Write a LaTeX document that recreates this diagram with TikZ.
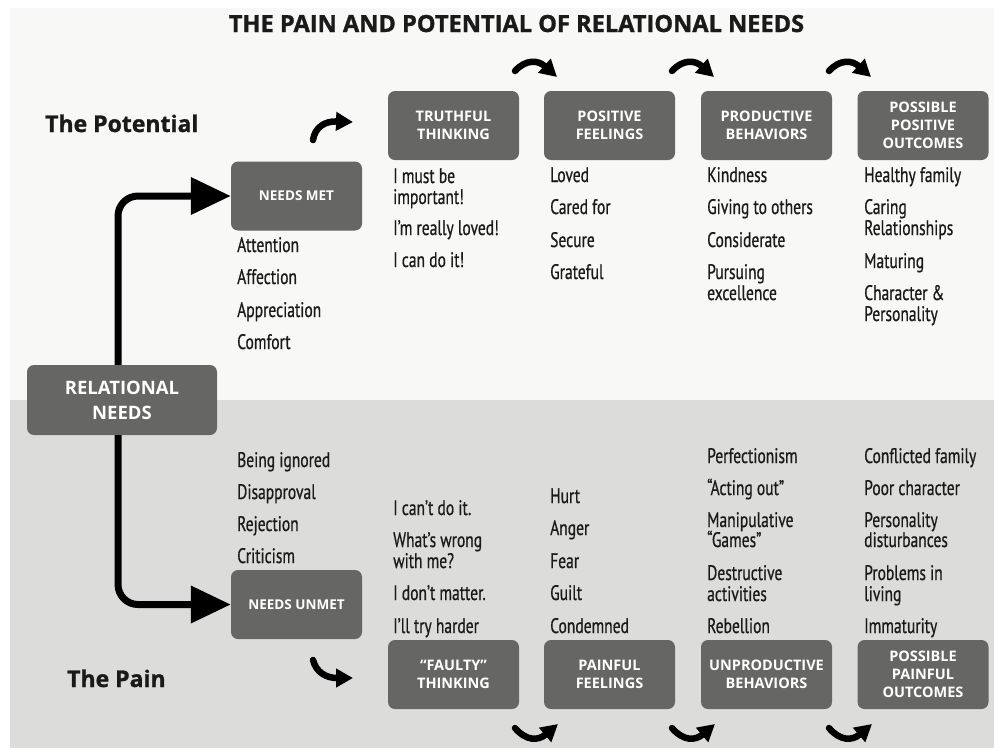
\documentclass[tikz,border=0pt]{standalone}
\usepackage{fontspec}
\setmainfont{PT Sans}
\newfontfamily\listfont[FakeStretch=0.74,FakeBold=0.6]{PT Sans}
\newfontfamily\headfont{Open Sans}
\newfontfamily\heavyfont[BoldFeatures={FakeBold=1.2}]{Open Sans}
\usetikzlibrary{arrows.meta}
\definecolor{boxgray}{HTML}{666664}
\definecolor{toptone}{HTML}{F8F8F6}
\definecolor{bottone}{HTML}{DCDCDA}
\definecolor{ink}{HTML}{1A1A1A}
\tikzset{
  stagebox/.style={fill=boxgray, rounded corners=7pt, minimum width=131pt, minimum height=69pt,
    text=white, font=\headfont\bfseries\fontsize{14.5}{18}\selectfont, align=center, inner sep=0pt},
  item/.style={anchor=base west, font=\listfont\fontsize{21}{21}\selectfont, text=ink, inner sep=0pt},
  sidelabel/.style={anchor=base west, font=\heavyfont\bfseries\fontsize{23}{26}\selectfont, text=ink, inner sep=0pt},
  bigarrow/.style={draw=black, line width=7pt, rounded corners=20pt, -{Triangle[length=40pt,width=36pt]}},
  curvy/.style={draw=black, line width=6.5pt, line cap=round, -{Triangle[length=17pt,width=18pt]}}
}
\begin{document}
\begin{tikzpicture}[x=1pt,y=-1pt]
\useasboundingbox (0,0) rectangle (994,748);
\fill[white] (0,0) rectangle (994,748);
\fill[toptone] (10,8) rectangle (994,400);
\fill[bottone] (10,400) rectangle (994,748);

% title and side labels
\node[anchor=base, font=\heavyfont\bfseries\fontsize{23.6}{26}\selectfont, text=ink, inner sep=0pt] (title) at (516.5,32) {THE PAIN AND POTENTIAL OF RELATIONAL NEEDS};
\node[sidelabel] (potential) at (45,132) {The Potential};
\node[sidelabel] (pain) at (67,687) {The Pain};

% boxes
\node[stagebox, minimum width=190pt, minimum height=70pt, font=\headfont\bfseries\fontsize{18.5}{25}\selectfont] (rn) at (122,400) {RELATIONAL\\NEEDS};
\node[stagebox, font=\headfont\bfseries\fontsize{13.5}{18}\selectfont] (met) at (296.5,196) {NEEDS MET};
\node[stagebox, font=\headfont\bfseries\fontsize{13.5}{18}\selectfont] (unmet) at (296.5,604.5) {NEEDS UNMET};
\node[stagebox] (tt) at (453.5,125.5) {TRUTHFUL\\THINKING};
\node[stagebox] (pf) at (609.5,125.5) {POSITIVE\\FEELINGS};
\node[stagebox] (pb) at (766.5,125.5) {PRODUCTIVE\\BEHAVIORS};
\node[stagebox] (po) at (923,125.5) {POSSIBLE\\POSITIVE\\OUTCOMES};
\node[stagebox] (ft) at (453.5,674.5) {“FAULTY”\\THINKING};
\node[stagebox] (pnf) at (609.5,674.5) {PAINFUL\\FEELINGS};
\node[stagebox] (ub) at (766.5,674.5) {UNPRODUCTIVE\\BEHAVIORS};
\node[stagebox] (ppo) at (923,674.5) {POSSIBLE\\PAINFUL\\OUTCOMES};

% main branching arrows
\draw[bigarrow] ([xshift=-4pt]rn.north) |- (met.west);
\draw[bigarrow] ([xshift=-4pt]rn.south) |- (unmet.west);

% small curved arrows
\coordinate (u1a) at (313,140); \coordinate (u1b) at (353,122);
\coordinate (u2a) at (515,71);  \coordinate (u2b) at (557,77);
\coordinate (u3a) at (672,71);  \coordinate (u3b) at (714,77);
\coordinate (u4a) at (829,71);  \coordinate (u4b) at (871,77);
\draw[curvy] (u1a) .. controls (315,127) and (325,121) .. (u1b);
\draw[curvy] (u2a) .. controls (526,59) and (538,60) .. (u2b);
\draw[curvy] (u3a) .. controls (683,59) and (695,60) .. (u3b);
\draw[curvy] (u4a) .. controls (840,59) and (852,60) .. (u4b);
\coordinate (d1a) at (313,660); \coordinate (d1b) at (353,678);
\coordinate (d2a) at (515,728); \coordinate (d2b) at (558,724);
\coordinate (d3a) at (672,728); \coordinate (d3b) at (715,724);
\coordinate (d4a) at (829,728); \coordinate (d4b) at (872,724);
\draw[curvy] (d1a) .. controls (316,672) and (326,678) .. (d1b);
\draw[curvy] (d2a) .. controls (526,741) and (538,741) .. (d2b);
\draw[curvy] (d3a) .. controls (683,741) and (695,741) .. (d3b);
\draw[curvy] (d4a) .. controls (840,741) and (852,741) .. (d4b);

% potential lists
\node[item] (m1) at (237,252) {Attention};
\node[item] (m2) at (237,284) {Affection};
\node[item] (m3) at (237,317) {Appreciation};
\node[item] (m4) at (237,349) {Comfort};

\node[item] (t1) at (393,183) {I must be};
\node[item] (t1b) at (393,204) {important!};
\node[item] (t2) at (393,235) {I’m really loved!};
\node[item] (t3) at (393,267) {I can do it!};

\node[item] (f1) at (550,182) {Loved};
\node[item] (f2) at (550,214) {Cared for};
\node[item] (f3) at (550,247) {Secure};
\node[item] (f4) at (550,279) {Grateful};

\node[item] (b1) at (707,182) {Kindness};
\node[item] (b2) at (707,214) {Giving to others};
\node[item] (b3) at (707,247) {Considerate};
\node[item] (b4) at (707,279) {Pursuing};
\node[item] (b4b) at (707,300) {excellence};

\node[item] (o1) at (864,182) {Healthy family};
\node[item] (o2) at (864,214) {Caring};
\node[item] (o2b) at (864,235) {Relationships};
\node[item] (o3) at (864,268) {Maturing};
\node[item] (o4) at (864,300) {Character \&};
\node[item] (o4b) at (864,321) {Personality};

% pain lists
\node[item] (n1) at (237,467) {Being ignored};
\node[item] (n2) at (237,499) {Disapproval};
\node[item] (n3) at (237,531) {Rejection};
\node[item] (n4) at (237,563) {Criticism};

\node[item] (q1) at (393,515) {I can’t do it.};
\node[item] (q2) at (393,547) {What’s wrong};
\node[item] (q2b) at (393,568) {with me?};
\node[item] (q3) at (393,600) {I don’t matter.};
\node[item] (q4) at (393,633) {I’ll try harder};

\node[item] (h1) at (550,503) {Hurt};
\node[item] (h2) at (550,535) {Anger};
\node[item] (h3) at (550,568) {Fear};
\node[item] (h4) at (550,600) {Guilt};
\node[item] (h5) at (550,633) {Condemned};

\node[item] (r1) at (707,463) {Perfectionism};
\node[item] (r2) at (707,495) {“Acting out”};
\node[item] (r3) at (707,527) {Manipulative};
\node[item] (r3b) at (707,547) {“Games”};
\node[item] (r4) at (707,580) {Destructive};
\node[item] (r4b) at (707,601) {activities};
\node[item] (r5) at (707,633) {Rebellion};

\node[item] (c1) at (864,463) {Conflicted family};
\node[item] (c2) at (864,495) {Poor character};
\node[item] (c3) at (864,527) {Personality};
\node[item] (c3b) at (864,547) {disturbances};
\node[item] (c4) at (864,580) {Problems in};
\node[item] (c4b) at (864,601) {living};
\node[item] (c5) at (864,633) {Immaturity};
\end{tikzpicture}
\end{document}
